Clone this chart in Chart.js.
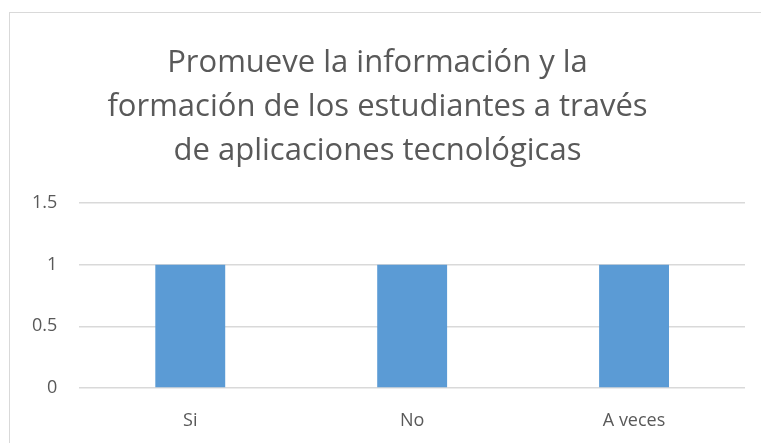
<!DOCTYPE html>
<html>
<head>
<meta charset="utf-8">
<script src="https://cdn.jsdelivr.net/npm/chart.js@4"></script>
<style>
  html, body { margin: 0; padding: 0; background: #fff; }
  #box { position: absolute; left: 9px; top: 12px; width: 800px; height: 500px; border: 1.5px solid #d9d9d9; }
  #wrap { position: absolute; left: 0; top: 0; width: 761px; height: 443px; }
</style>
</head>
<body>
<div id="box"></div>
<div id="wrap"><canvas id="myChart"></canvas></div>
<script>
  const categories = ['Si', 'No', 'A veces']
  const values = [1, 1, 1]
  const titleLines = ['Promueve la información y la', 'formación de los estudiantes a través', 'de aplicaciones tecnológicas']

  const ctx = document.getElementById('myChart');
  const textColor = '#595959'
  const fontFamily = '"Open Sans", sans-serif'

  new Chart(ctx, {
    type: 'bar',
    data: {
      labels: categories,
      datasets: [{
        label: 'Serie 1',
        data: values,
        backgroundColor: '#5b9bd5',
        categoryPercentage: 1,
        barPercentage: 0.315
      }]
    },
    options: {
      responsive: true,
      maintainAspectRatio: false,
      animation: false,
      layout: {
        padding: { left: 10, right: 16, top: 41, bottom: 12 }
      },
      plugins: {
        legend: { display: false },
        tooltip: { enabled: false },
        title: {
          display: true,
          text: titleLines,
          color: textColor,
          font: { family: fontFamily, size: 31, weight: 'normal', lineHeight: 1.42 },
          padding: { top: 0, bottom: 30 }
        }
      },
      scales: {
        x: {
          grid: { display: false },
          border: { display: false },
          ticks: { color: textColor, font: { family: fontFamily, size: 18 }, padding: 14 },
          afterFit: function (scale) { scale.height = 43 }
        },
        y: {
          min: 0,
          max: 1.5,
          ticks: {
            stepSize: 0.5,
            color: textColor,
            font: { family: fontFamily, size: 18 },
            padding: 22,
            callback: function (v) { return String(v) }
          },
          grid: { color: '#d9d9d9', lineWidth: 1.5, drawTicks: false },
          border: { display: false }
        }
      }
    }
  });
</script>
</body>
</html>
